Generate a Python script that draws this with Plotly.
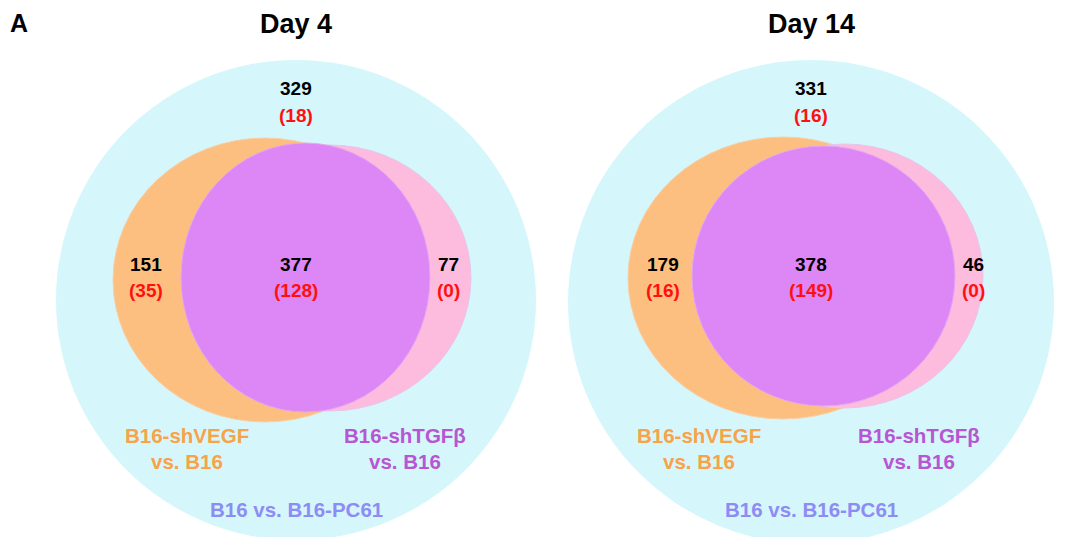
import plotly.graph_objects as go

# ---------------- data ----------------
panel_titles = ["Day 4", "Day 14"]
only_pc61 = [329, 331]
only_pc61_red = [18, 16]
only_vegf = [151, 179]
only_vegf_red = [35, 16]
shared = [377, 378]
shared_red = [128, 149]
only_tgfb = [77, 46]
only_tgfb_red = [0, 0]
set_vegf_label = ["B16-shVEGF", "vs. B16"]
set_tgfb_label = ["B16-shTGFβ", "vs. B16"]
set_pc61_label = "B16 vs. B16-PC61"
panel_letter = "A"

# ---------------- layout geometry (pixels) ----------------
geom = [
    dict(cx=296, outer=(296, 300, 240, 240), orange=(265, 280, 152, 142),
         pink=(330, 278, 141, 133), magenta=(305.5, 277.5, 124.5, 134.5),
         xl=146, xr=448, lab_l=187, lab_r=405),
    dict(cx=811, outer=(811, 302, 243, 242), orange=(783, 278, 155, 141),
         pink=(845, 276, 138, 132), magenta=(823.5, 276, 131.5, 130),
         xl=663, xr=973, lab_l=699, lab_r=919),
]

C_CYAN = "#d5f7fb"
C_ORANGE = "#fdbf80"
C_PINK = "#fdbbdd"
C_MAGENTA = "#dc87f5"
C_LAB_OR = "#f9a24a"
C_LAB_PU = "#b755d3"
C_LAB_BL = "#8d8cf4"
C_RED = "#ff1010"
FONT = "Liberation Sans, Arial, sans-serif"

# page body has an 8px margin: compensate so coordinates match the window
OFF = 8
W, H = 1075, 537

fig = go.Figure()
fig.add_trace(go.Scatter(x=[OFF + 1], y=[OFF + 1], mode="markers", marker=dict(opacity=0),
                         hoverinfo="skip", showlegend=False))

def ell(c, color, edge=None):
    x, y, a, b = c
    return dict(type="circle", xref="x", yref="y", x0=x - a, x1=x + a, y0=y - b, y1=y + b,
                fillcolor=color, line=dict(width=1 if edge else 0, color=edge or color), layer="above")

shapes = []
annotations = []

def txt(x, y, s, size, color, bold=True, pad=1):
    annotations.append(dict(x=x, y=y, xref="x", yref="y", text=f"<b>{s}</b>" if bold else s,
                            showarrow=False, xanchor="center", yanchor="middle", borderpad=pad,
                            font=dict(family=FONT, size=size, color=color)))

for i, g in enumerate(geom):
    shapes.append(ell(g["outer"], C_CYAN))
    shapes.append(ell(g["orange"], C_ORANGE, "#f7cfa6"))
    shapes.append(ell(g["pink"], C_PINK, "#e6c6ee"))
    shapes.append(ell(g["magenta"], C_MAGENTA, "#e4a6f2"))

    cx = g["cx"]
    txt(cx, 24, panel_titles[i], 27, "#000000")
    txt(cx, 88, only_pc61[i], 19, "#000000")
    txt(cx, 115, f"({only_pc61_red[i]})", 19, C_RED)
    txt(g["xl"], 264, only_vegf[i], 19, "#000000")
    txt(g["xl"], 290, f"({only_vegf_red[i]})", 19, C_RED)
    txt(cx, 264, shared[i], 19, "#000000")
    txt(cx, 290, f"({shared_red[i]})", 19, C_RED)
    txt(g["xr"], 264, only_tgfb[i], 19, "#000000")
    txt(g["xr"], 290, f"({only_tgfb_red[i]})", 19, C_RED)
    txt(g["lab_l"], 435, set_vegf_label[0], 20.5, C_LAB_OR)
    txt(g["lab_l"], 461, set_vegf_label[1], 20.5, C_LAB_OR)
    txt(g["lab_r"], 435, set_tgfb_label[0], 20.5, C_LAB_PU)
    txt(g["lab_r"], 461, set_tgfb_label[1], 20.5, C_LAB_PU)
    txt(cx, 509, set_pc61_label, 20.5, C_LAB_BL)

txt(19, 23, panel_letter, 25, "#000000", pad=0)

fig.update_layout(
    width=W - OFF, height=H - OFF,
    margin=dict(l=0, r=0, t=0, b=0),
    paper_bgcolor="white", plot_bgcolor="white",
    xaxis=dict(range=[OFF, W], visible=False, fixedrange=True),
    yaxis=dict(range=[H, OFF], visible=False, fixedrange=True),
    shapes=shapes, annotations=annotations, showlegend=False,
)

fig.write_html("out.html")
